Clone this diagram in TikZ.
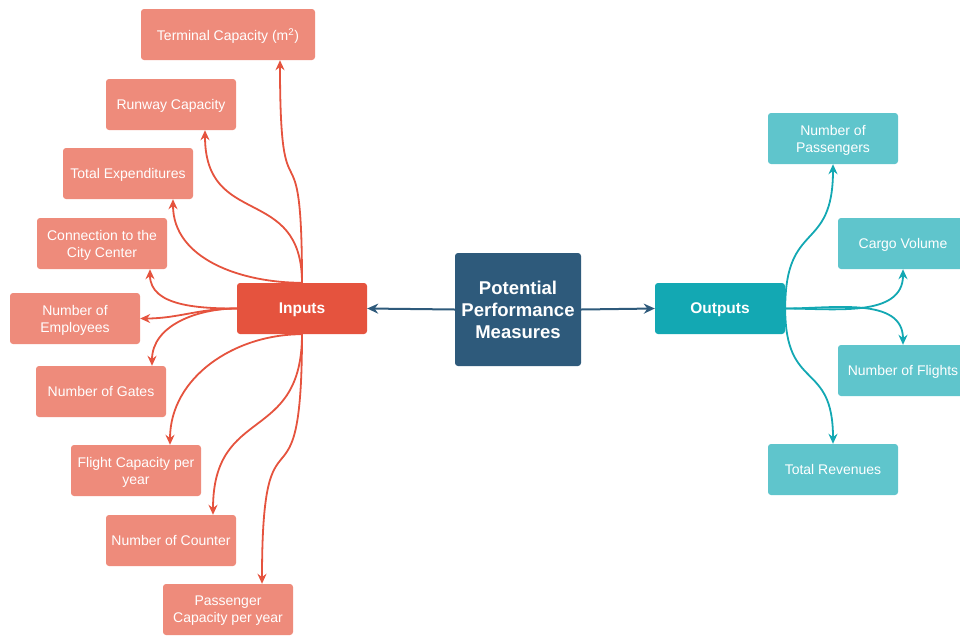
\documentclass[tikz,border=0pt]{standalone}
\usepackage{fontspec}
\setmainfont{Liberation Sans}
\usetikzlibrary{arrows.meta}

\definecolor{hubblue}{HTML}{2E5A7B}
\definecolor{indark}{HTML}{E5533E}
\definecolor{inlight}{HTML}{EE8B7B}
\definecolor{outdark}{HTML}{13A8B3}
\definecolor{outlight}{HTML}{5FC5CC}

\begin{document}
\begin{tikzpicture}[x=1pt,y=1pt,
    box/.style={rounded corners=3pt, minimum width=130pt, minimum height=51pt,
      align=center, text=white, inner sep=2pt, text depth=0pt, font=\fontsize{14}{17}\selectfont},
    inbox/.style={box, fill=inlight},
    outbox/.style={box, fill=outlight},
    inarr/.style={draw=indark, line width=1.8pt, -{Stealth[length=10pt,width=9pt]}},
    outarr/.style={draw=outdark, line width=1.8pt, -{Stealth[length=10pt,width=9pt]}},
    hubarr/.style={draw=hubblue, line width=2pt, -{Stealth[length=11pt,width=10pt]}}]
        \useasboundingbox (0,0) rectangle (960,-635);

        % Ana kutular
        \node[box, fill=hubblue, minimum width=126pt, minimum height=113pt,
              font=\bfseries\fontsize{18.5}{22}\selectfont] (hub) at (518,-309.5)
              {Potential\\Performance\\Measures};
        \node[box, fill=indark, font=\bfseries\fontsize{15.5}{18}\selectfont] (inputs) at (302,-308.5) {Inputs};
        \node[box, fill=outdark, font=\bfseries\fontsize{15.5}{18}\selectfont] (outputs) at (720,-308.5) {Outputs};

        % Girdiler
        \node[inbox, minimum width=174pt] (term) at (228,-34.5) {Terminal Capacity (m\textsuperscript{2})};
        \node[inbox] (run) at (171,-104.5) {Runway Capacity};
        \node[inbox] (exp) at (128,-173.5) {Total Expenditures};
        \node[inbox] (conn) at (102,-243.5) {Connection to the\\City Center};
        \node[inbox] (emp) at (75,-318.5) {Number of\\Employees};
        \node[inbox] (gates) at (101,-391.5) {Number of Gates};
        \node[inbox] (flight) at (136,-470.5) {Flight Capacity per\\year};
        \node[inbox] (cnt) at (171,-540.5) {Number of Counter};
        \node[inbox] (pcap) at (228,-609.5) {Passenger\\Capacity per year};

        % Çıktılar
        \node[outbox] (npass) at (833,-138.5) {Number of\\Passengers};
        \node[outbox] (cargo) at (903,-243.5) {Cargo Volume};
        \node[outbox] (flt) at (903,-370.5) {Number of Flights};
        \node[outbox] (rev) at (833,-469.5) {Total Revenues};

        % Oklar
        \draw[hubarr] (hub.west) -- (inputs.east);
        \draw[hubarr] (hub.east) -- (outputs.west);

        \draw[inarr] (inputs.north) to[out=90,in=-90,looseness=2] ([xshift=52pt]term.south);
        \draw[inarr] (inputs.north) to[out=90,in=-90,looseness=1.4] ([xshift=34pt]run.south);
        \draw[inarr] (inputs.north) to[out=180,in=-90] ([xshift=45pt]exp.south);
        \draw[inarr] (inputs.west) to[out=180,in=-90] ([xshift=48pt]conn.south);
        \draw[inarr] (inputs.west) to[out=180,in=0] (emp.east);
        \draw[inarr] (inputs.west) to[out=180,in=90] ([xshift=51pt]gates.north);
        \draw[inarr] (inputs.south) to[out=180,in=90] ([xshift=34pt]flight.north);
        \draw[inarr] (inputs.south) to[out=-90,in=90,looseness=1.4] ([xshift=42pt]cnt.north);
        \draw[inarr] (inputs.south) to[out=-90,in=90,looseness=2] ([xshift=34pt]pcap.north);

        \draw[outarr] (outputs.east) to[out=90,in=-90,looseness=1.5] (npass.south);
        \draw[outarr] (outputs.east) to[out=0,in=-90] (cargo.south);
        \draw[outarr] (outputs.east) to[out=0,in=90] (flt.north);
        \draw[outarr] (outputs.east) to[out=-90,in=90,looseness=1.5] (rev.north);
    \end{tikzpicture}
\end{document}
